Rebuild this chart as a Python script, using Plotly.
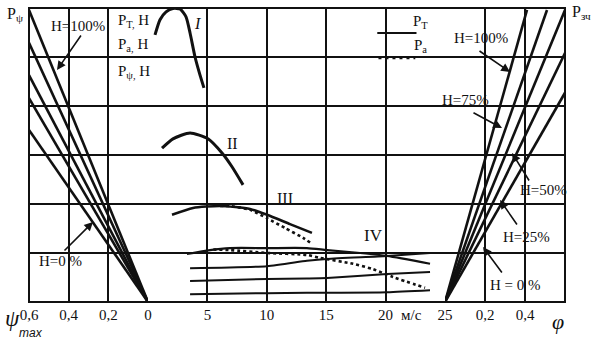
import plotly.graph_objects as go

# ---- data -----------------------------------------------------------------
# left panel: P_psi = f(psi) rays for road load H, values at psi = 0.6
H_levels = ["100%", "75%", "50%", "25%", "0%"]
psi_edge = [0.6, 0.6, 0.6, 0.6, 0.6]
p_psi_edge = [5.96, 5.29, 4.63, 4.16, 3.51]

# right panel: P_zch = f(phi) rays, end points of each ray
phi_end = [0.41, 0.51, 0.60, 0.60, 0.60]
p_zch_end = [5.96, 5.96, 5.96, 5.08, 4.27]

# middle panel: traction force P_T vs speed, gears I..IV (grid units)
v_I = [0.59, 1.01, 1.52, 2.10, 2.69, 3.20, 3.54, 3.96, 4.38, 4.71]
pt_I = [5.45, 5.76, 5.92, 5.99, 5.98, 5.82, 5.49, 5.00, 4.63, 4.37]

v_II = [1.18, 2.10, 3.54, 5.05, 6.23, 7.07, 8.00]
pt_II = [3.14, 3.33, 3.45, 3.33, 3.04, 2.76, 2.39]

v_III = [2.02, 3.79, 6.06, 8.59, 10.02, 11.95, 13.80]
pt_III = [1.78, 1.92, 1.96, 1.90, 1.78, 1.59, 1.41]
v_III_a = [6.06, 6.90, 8.59, 10.02, 11.53, 13.05, 13.72]
pa_III = [1.96, 1.96, 1.88, 1.71, 1.51, 1.31, 1.20]

v_IV = [3.28, 5.22, 6.90, 10.02, 13.38, 15.07, 17.85, 20.12, 23.74]
pt_IV = [0.98, 1.06, 1.10, 1.10, 1.10, 1.06, 1.00, 0.94, 0.78]
v_IV_a = [5.50, 6.90, 10.02, 13.38, 14.48, 17.26, 18.94, 20.62, 23.32]
pa_IV = [1.07, 1.06, 1.00, 0.96, 0.90, 0.78, 0.67, 0.51, 0.29]

# P_psi levels carried over into the speed field
v_low = [3.54, 10.02, 13.38, 15.07, 20.12, 23.74]
p_low_1 = [0.69, 0.73, 0.84, 0.88, 0.94, 1.00]
p_low_2 = [0.43, 0.47, 0.48, 0.49, 0.57, 0.61]
p_low_3 = [0.16, 0.18, 0.19, 0.19, 0.20, 0.24]

psi_ticks = [0.6, 0.4, 0.2, 0]
psi_text = ["0,6", "0,4", "0,2", "0"]
v_ticks = [5, 10, 15, 20, 25]
v_text = ["5", "10", "15", "20", "25"]
phi_ticks = [0.2, 0.4, 0.6]
phi_text = ["0,2", "0,4", ""]

# ---- layout geometry --------------------------------------------------------
W, H = 595, 342
ML, MR, MT, MB = 29, 30, 8, 40
PW, PH = W - ML - MR, H - MT - MB


def pp(xp, yp):
    """pixel position on the page -> paper coordinates"""
    return (xp - ML) / PW, (MT + PH - yp) / PH


SERIF = "Liberation Serif, Times New Roman, DejaVu Serif, serif"
SANS = "Liberation Sans, Arial, sans-serif"
INK = "#111111"

fig = go.Figure()

solid = dict(color=INK, width=2.6)
for pe, qe in zip(psi_edge, p_psi_edge):
    fig.add_trace(go.Scatter(x=[0, pe], y=[0, qe], mode="lines", line=solid,
                             xaxis="x", yaxis="y", showlegend=False, hoverinfo="skip"))
for fe, qe in zip(phi_end, p_zch_end):
    fig.add_trace(go.Scatter(x=[0, fe], y=[0, qe], mode="lines", line=solid,
                             xaxis="x3", yaxis="y", showlegend=False, hoverinfo="skip"))

for xs, ys, w in [(v_I, pt_I, 3.0), (v_II, pt_II, 3.0), (v_III, pt_III, 2.6),
                  (v_IV, pt_IV, 2.2), (v_low, p_low_1, 2.0), (v_low, p_low_2, 2.0),
                  (v_low, p_low_3, 2.0)]:
    fig.add_trace(go.Scatter(x=xs, y=ys, mode="lines",
                             line=dict(color=INK, width=w, shape="spline", smoothing=0.6),
                             xaxis="x2", yaxis="y", showlegend=False, hoverinfo="skip"))
for xs, ys in [(v_III_a, pa_III), (v_IV_a, pa_IV)]:
    fig.add_trace(go.Scatter(x=xs, y=ys, mode="lines",
                             line=dict(color=INK, width=2.6, dash="3px,3px",
                                       shape="spline", smoothing=0.6),
                             xaxis="x2", yaxis="y", showlegend=False, hoverinfo="skip"))

# legend samples
fig.add_trace(go.Scatter(x=[19.3, 22.6], y=[5.49, 5.49], mode="lines",
                         line=dict(color=INK, width=2),
                         xaxis="x2", yaxis="y", showlegend=False, hoverinfo="skip"))
fig.add_trace(go.Scatter(x=[19.4, 22.5], y=[4.98, 4.98], mode="lines",
                         line=dict(color=INK, width=2.6, dash="3px,4px"),
                         xaxis="x2", yaxis="y", showlegend=False, hoverinfo="skip"))

# ---- axes -------------------------------------------------------------------
d1 = (148 - ML) / PW
d2 = (445 - ML) / PW
grid = dict(showgrid=True, gridcolor=INK, gridwidth=1.5, zeroline=False,
            showline=False, ticks="", ticklabelstandoff=2,
            tickfont=dict(family=SERIF, size=15, color=INK))
fig.update_layout(
    xaxis=dict(domain=[0, d1], range=[0.6, 0], tickvals=psi_ticks, ticktext=psi_text,
               anchor="y", **grid),
    xaxis2=dict(domain=[d1, d2], range=[0, 25], tickvals=v_ticks, ticktext=v_text,
                anchor="y", **grid),
    xaxis3=dict(domain=[d2, 1], range=[0, 0.6], tickvals=phi_ticks, ticktext=phi_text,
                anchor="y", **grid),
    yaxis=dict(range=[0, 6], tickvals=[0, 1, 2, 3, 4, 5, 6], showticklabels=False,
               showgrid=True, gridcolor=INK, gridwidth=1.5, zeroline=False,
               showline=False, ticks="", anchor="x"),
    width=W, height=H, margin=dict(l=ML, r=MR, t=MT, b=MB),
    paper_bgcolor="white", plot_bgcolor="white", showlegend=False,
)
fig.add_shape(type="rect", xref="paper", yref="paper", x0=0, x1=1, y0=0, y1=1,
              line=dict(color=INK, width=2))

# ---- labels -----------------------------------------------------------------
ann = []


def text(xp, yp, s, size=15, xanchor="center", italic=False, family=SERIF):
    x, y = pp(xp, yp)
    if italic:
        s = f"<i>{s}</i>"
    ann.append(dict(x=x, y=y, xref="paper", yref="paper", text=s, showarrow=False,
                    xanchor=xanchor, yanchor="middle",
                    font=dict(family=family, size=size, color=INK)))


def arrow(head, tail):
    x, y = pp(*head)
    ann.append(dict(x=x, y=y, xref="paper", yref="paper", text="", showarrow=True,
                    ax=tail[0] - head[0], ay=tail[1] - head[1],
                    arrowhead=2, arrowsize=1.1, arrowwidth=1.6, arrowcolor=INK,
                    standoff=0, startstandoff=0))


text(5, 14, "P<sub>ψ</sub>", 16, "left")
text(570, 12, "P<sub>зч</sub>", 16, "left")
text(116, 21, "P<sub>T,</sub> H", 15, "left")
text(116, 45, "P<sub>a,</sub> H", 15, "left")
text(116, 72, "P<sub>ψ,</sub> H", 15, "left")
text(411, 22, "P<sub>T</sub>", 15, "left")
text(412, 46, "P<sub>a</sub>", 15, "left")
text(197, 24, "I", 16, italic=True)
text(232, 143, "II", 16)
text(285, 198, "III", 16)
text(373, 235, "IV", 17)
text(411, 315, "м/с", 15)
text(12, 318, "ψ", 23, italic=True)
text(31, 333, "max", 12, italic=True, family=SANS)
text(558, 321, "φ", 22, italic=True)

text(78, 26, "H=100%", 15)
text(60, 261, "H=0 %", 15)
text(481, 38, "H=100%", 15)
text(465, 100, "H=75%", 15)
text(543, 190, "H=50%", 15)
text(526, 237, "H=25%", 15)
text(515, 285, "H = 0 %", 15)

arrow((57, 70), (82, 34))
arrow((93, 222), (63, 252))
arrow((510, 72), (478, 50))
arrow((502, 128), (472, 112))
arrow((512, 153), (530, 182))
arrow((500, 200), (518, 226))
arrow((483, 247), (503, 274))

fig.update_layout(annotations=ann)
fig.write_html("out.html")
